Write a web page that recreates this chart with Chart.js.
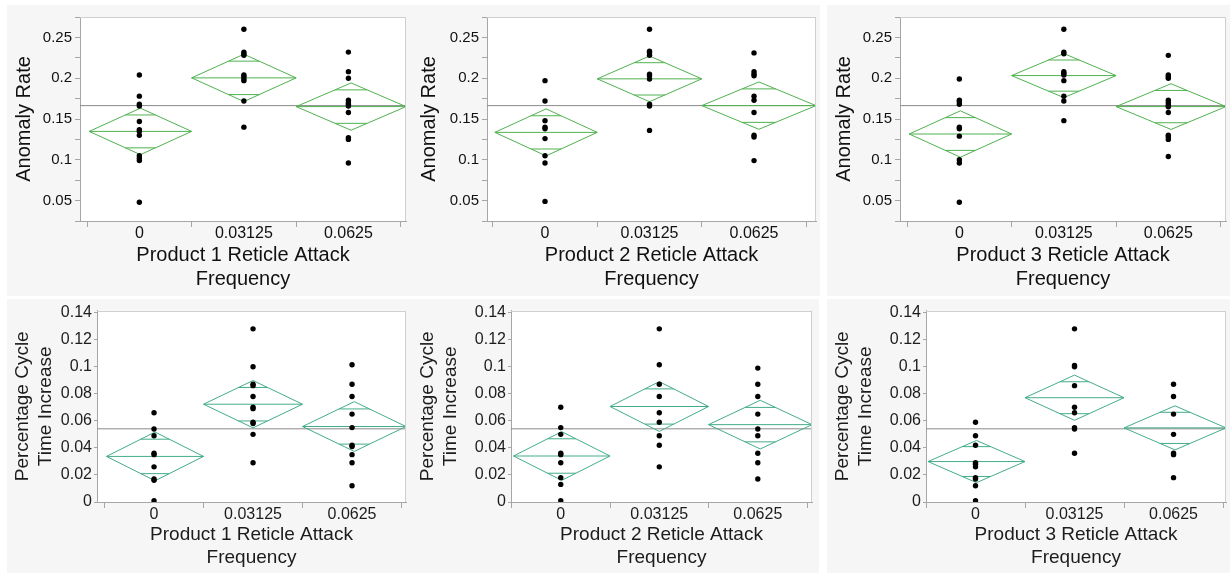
<!DOCTYPE html>
<html><head><meta charset="utf-8">
<script src="https://cdn.jsdelivr.net/npm/chart.js@4.4.1/dist/chart.umd.min.js"></script>
<style>
html,body{margin:0;padding:0;background:#ffffff;width:1230px;height:574px;overflow:hidden;position:relative}
.panel{position:absolute;background:#f6f6f6}
canvas{display:block}
</style></head><body>
<script>
// ---------------- DATA ----------------
const categories = ['0', '0.03125', '0.0625'];
const productTitles = ['Product 1 Reticle Attack', 'Product 2 Reticle Attack', 'Product 3 Reticle Attack'];
const anomalyTitle = 'Anomaly Rate';
const cycleTitle = ['Percentage Cycle', 'Time Increase'];

const anomalyTickValues = [0.05, 0.1, 0.15, 0.2, 0.25];
const anomalyTickLabels = ['0.05', '0.1', '0.15', '0.2', '0.25'];
const anomalyMinorTicks = [0.025, 0.075, 0.125, 0.175, 0.225, 0.275];
const cycleTickValues = [0, 0.02, 0.04, 0.06, 0.08, 0.1, 0.12, 0.14];
const cycleTickLabels = ['0', '0.02', '0.04', '0.06', '0.08', '0.1', '0.12', '0.14'];

// Anomaly rate, points per frequency group
const anomalyP1 = [
  [0.204, 0.178, 0.168, 0.166, 0.147, 0.137, 0.135, 0.130, 0.105, 0.102, 0.099, 0.048],
  [0.260, 0.232, 0.230, 0.228, 0.204, 0.202, 0.199, 0.197, 0.172, 0.140],
  [0.232, 0.208, 0.200, 0.173, 0.170, 0.168, 0.166, 0.158, 0.127, 0.125, 0.096]
];
const anomalyP2 = [
  [0.197, 0.172, 0.148, 0.140, 0.138, 0.126, 0.105, 0.096, 0.049],
  [0.260, 0.233, 0.231, 0.228, 0.205, 0.203, 0.199, 0.168, 0.166, 0.136],
  [0.231, 0.208, 0.205, 0.203, 0.178, 0.173, 0.158, 0.130, 0.128, 0.099]
];
const anomalyP3 = [
  [0.199, 0.173, 0.171, 0.168, 0.140, 0.138, 0.129, 0.100, 0.096, 0.048],
  [0.260, 0.232, 0.230, 0.208, 0.206, 0.204, 0.197, 0.178, 0.172, 0.148],
  [0.228, 0.204, 0.202, 0.200, 0.173, 0.170, 0.167, 0.165, 0.158, 0.130, 0.128, 0.125, 0.104]
];
const anomalyMeans = [[0.1348, 0.2004, 0.1652], [0.1336, 0.1992, 0.1664], [0.1316, 0.2032, 0.1652]];
const anomalyHalfCI = [[0.0285, 0.0290, 0.0290], [0.0288, 0.0280, 0.0290], [0.0284, 0.0270, 0.0280]];
const anomalyGrandMean = [0.1664, 0.1664, 0.1664];

// Percentage cycle time increase, points per frequency group
const cycleP1 = [
  [0.066, 0.054, 0.049, 0.036, 0.035, 0.026, 0.017, 0.016, 0.001],
  [0.128, 0.100, 0.087, 0.086, 0.078, 0.070, 0.069, 0.059, 0.058, 0.050, 0.029],
  [0.1015, 0.087, 0.078, 0.065, 0.055, 0.042, 0.041, 0.035, 0.029, 0.012]
];
const cycleP2 = [
  [0.070, 0.055, 0.050, 0.036, 0.035, 0.029, 0.018, 0.013, 0.001],
  [0.128, 0.1015, 0.087, 0.078, 0.066, 0.059, 0.049, 0.042, 0.026],
  [0.099, 0.087, 0.078, 0.065, 0.054, 0.049, 0.036, 0.029, 0.017]
];
const cycleP3 = [
  [0.059, 0.049, 0.042, 0.029, 0.028, 0.026, 0.018, 0.017, 0.012, 0.001],
  [0.128, 0.101, 0.100, 0.086, 0.070, 0.066, 0.055, 0.054, 0.036],
  [0.087, 0.078, 0.065, 0.050, 0.036, 0.035, 0.018]
];
const cycleMeans = [[0.0337, 0.0723, 0.0558], [0.0340, 0.0706, 0.0572], [0.0299, 0.0771, 0.0548]];
const cycleHalfCI = [[0.0180, 0.0175, 0.0184], [0.0180, 0.0184, 0.0180], [0.0156, 0.0167, 0.0163]];
const cycleGrandMean = [0.0541, 0.0541, 0.0541];

// ---------------- LAYOUT / STYLE ----------------
const FONT = "'Liberation Sans', Arial, Helvetica, sans-serif";
const styles = {
  anomaly: {green: '#4fb24f', text: '#111111', tickSize: 15, catSize: 16, titleSize: 20, lh: 1.17,
            yMin: 0.025, yMax: 0.275, tickVals: anomalyTickValues, tickLabs: anomalyTickLabels,
            minor: anomalyMinorTicks, yTitle: anomalyTitle, yTickLen: 5, yTickPad: 3, xLabPad: -3},
  cycle:   {green: '#43ad89', text: '#1c1c1c', tickSize: 16, catSize: 16, titleSize: 19, lh: 1.21,
            yMin: 0, yMax: 0.1415, tickVals: cycleTickValues, tickLabs: cycleTickLabels,
            minor: [], yTitle: cycleTitle, yTickLen: 3, yTickPad: 2, xLabPad: -3}
};
const panels = [
  {kind: 'anomaly', prod: 0, pts: anomalyP1, box: [7, 5, 403, 291],   yW: 73,  padT: 8, padR: 4, xH: 75, xMin: -0.068, xMax: 3.051, yTitlePad: 6, xTitlePad: 5},
  {kind: 'anomaly', prod: 1, pts: anomalyP2, box: [410, 5, 410, 291], yW: 77,  padT: 8, padR: 4, xH: 75, xMin: -0.055, xMax: 3.093, yTitlePad: 8, xTitlePad: 5},
  {kind: 'anomaly', prod: 2, pts: anomalyP3, box: [827, 5, 403, 291], yW: 73,  padT: 8, padR: 4, xH: 75, xMin: -0.068, xMax: 3.052, yTitlePad: 6, xTitlePad: 5},
  {kind: 'cycle', prod: 0, pts: cycleP1, box: [7, 299, 404, 274],     yW: 90,  padT: 6, padR: 5, xH: 71, xMin: -0.076, xMax: 3.045, yTitlePad: 4, xTitlePad: 4},
  {kind: 'cycle', prod: 1, pts: cycleP2, box: [411, 299, 408, 274],   yW: 100, padT: 6, padR: 7, xH: 71, xMin: -0.005, xMax: 3.05,  yTitlePad: 5, xTitlePad: 4},
  {kind: 'cycle', prod: 2, pts: cycleP3, box: [827, 299, 403, 274],   yW: 99,  padT: 6, padR: 4, xH: 71, xMin: 0,      xMax: 3.03,  yTitlePad: 4, xTitlePad: 4}
];

const framePlugin = {
  id: 'frame',
  beforeDraw(chart) {
    const {ctx, chartArea: a} = chart;
    ctx.save(); ctx.fillStyle = '#ffffff';
    ctx.fillRect(a.left, a.top, a.right - a.left, a.bottom - a.top);
    ctx.restore();
  },
  afterDraw(chart) {
    const {ctx, chartArea: a} = chart;
    ctx.save(); ctx.strokeStyle = '#cfcfcf'; ctx.lineWidth = 1;
    ctx.beginPath();
    ctx.moveTo(a.left, Math.round(a.top) + 0.5); ctx.lineTo(a.right, Math.round(a.top) + 0.5);
    ctx.moveTo(Math.round(a.right) - 0.5, a.top); ctx.lineTo(Math.round(a.right) - 0.5, a.bottom);
    ctx.stroke(); ctx.restore();
  }
};

function isHalf(v) { return Math.abs(v - Math.floor(v) - 0.5) < 1e-6; }

function seg(points, color) {
  return {data: points, showLine: true, borderColor: color, borderWidth: 1, pointRadius: 0,
          pointHoverRadius: 0, fill: false, tension: 0};
}

panels.forEach((p) => {
  const st = styles[p.kind];
  const means = (p.kind === 'anomaly' ? anomalyMeans : cycleMeans)[p.prod];
  const halfs = (p.kind === 'anomaly' ? anomalyHalfCI : cycleHalfCI)[p.prod];
  const grand = (p.kind === 'anomaly' ? anomalyGrandMean : cycleGrandMean)[p.prod];

  const div = document.createElement('div');
  div.className = 'panel';
  Object.assign(div.style, {left: p.box[0] + 'px', top: p.box[1] + 'px', width: p.box[2] + 'px', height: p.box[3] + 'px'});
  const cv = document.createElement('canvas');
  cv.width = p.box[2]; cv.height = p.box[3];
  cv.style.width = p.box[2] + 'px'; cv.style.height = p.box[3] + 'px';
  div.appendChild(cv); document.body.appendChild(div);

  const datasets = [];
  // dots
  const dots = [];
  p.pts.forEach((arr, g) => arr.forEach(v => dots.push({x: g + 0.5, y: v})));
  datasets.push({data: dots, showLine: false, pointRadius: 2.7, pointHoverRadius: 2.7,
                 backgroundColor: '#000000', borderWidth: 0, pointBorderWidth: 0});
  // diamonds
  for (let g = 0; g < 3; g++) {
    const a = g === 0 ? 0.02 : g;
    const b = g === 2 ? p.xMax : g + 1;
    const c = (a + b) / 2;
    const m = means[g], h = halfs[g];
    const k = h / Math.SQRT2;
    const hw = (b - a) / 2 * (1 - 1 / Math.SQRT2);
    datasets.push(seg([{x: a, y: m}, {x: c, y: m + h}, {x: b, y: m}, {x: c, y: m - h}, {x: a, y: m}], st.green));
    datasets.push(seg([{x: a, y: m}, {x: b, y: m}], st.green));
    datasets.push(seg([{x: c - hw, y: m + k}, {x: c + hw, y: m + k}], st.green));
    datasets.push(seg([{x: c - hw, y: m - k}, {x: c + hw, y: m - k}], st.green));
  }
  // grand mean
  datasets.push(seg([{x: p.xMin, y: grand}, {x: p.xMax, y: grand}], '#8a8a8a'));

  const yTicksAll = st.tickVals.concat(st.minor).sort((u, v) => u - v);

  new Chart(cv, {
    type: 'scatter',
    data: {datasets},
    plugins: [framePlugin],
    options: {
      responsive: false, animation: false, devicePixelRatio: 1,
      layout: {padding: {left: 0, top: p.padT, right: p.padR, bottom: 0}},
      plugins: {legend: {display: false}, tooltip: {enabled: false}},
      events: [],
      scales: {
        x: {
          type: 'linear', min: p.xMin, max: p.xMax,
          afterBuildTicks: (s) => { s.ticks = [0, 0.5, 1, 1.5, 2, 2.5, 3].map(v => ({value: v})); },
          afterFit: (s) => { s.height = p.xH; },
          ticks: {autoSkip: false, maxRotation: 0, minRotation: 0, padding: st.xLabPad,
                  color: st.text, font: {family: FONT, size: st.catSize},
                  callback: (v) => isHalf(v) ? categories[Math.floor(v)] : ''},
          grid: {drawOnChartArea: false, drawTicks: true, tickLength: 6,
                 color: (ctx) => (ctx.tick && isHalf(ctx.tick.value)) ? 'rgba(0,0,0,0)' : '#a6a6a6',
                 tickColor: (ctx) => (ctx.tick && isHalf(ctx.tick.value)) ? 'rgba(0,0,0,0)' : '#a6a6a6'},
          border: {display: true, color: '#a6a6a6'},
          title: {display: true, text: [productTitles[p.prod], 'Frequency'], color: st.text,
                  font: {family: FONT, size: st.titleSize, lineHeight: st.lh},
                  padding: {top: 0, bottom: p.xTitlePad}}
        },
        y: {
          type: 'linear', min: st.yMin, max: st.yMax,
          afterBuildTicks: (s) => { s.ticks = yTicksAll.map(v => ({value: v})); },
          afterFit: (s) => { s.width = p.yW; },
          ticks: {autoSkip: false, padding: st.yTickPad, color: st.text,
                  font: {family: FONT, size: st.tickSize},
                  callback: (v) => {
                    const i = st.tickVals.findIndex(t => Math.abs(t - v) < 1e-9);
                    return i >= 0 ? st.tickLabs[i] : '';
                  }},
          grid: {drawOnChartArea: false, drawTicks: true, tickLength: st.yTickLen, color: '#a6a6a6'},
          border: {display: true, color: '#a6a6a6'},
          title: {display: true, text: st.yTitle, color: st.text,
                  font: {family: FONT, size: st.titleSize, lineHeight: st.lh},
                  padding: {top: p.yTitlePad, bottom: 0}}
        }
      }
    }
  });
});
</script>
</body></html>
